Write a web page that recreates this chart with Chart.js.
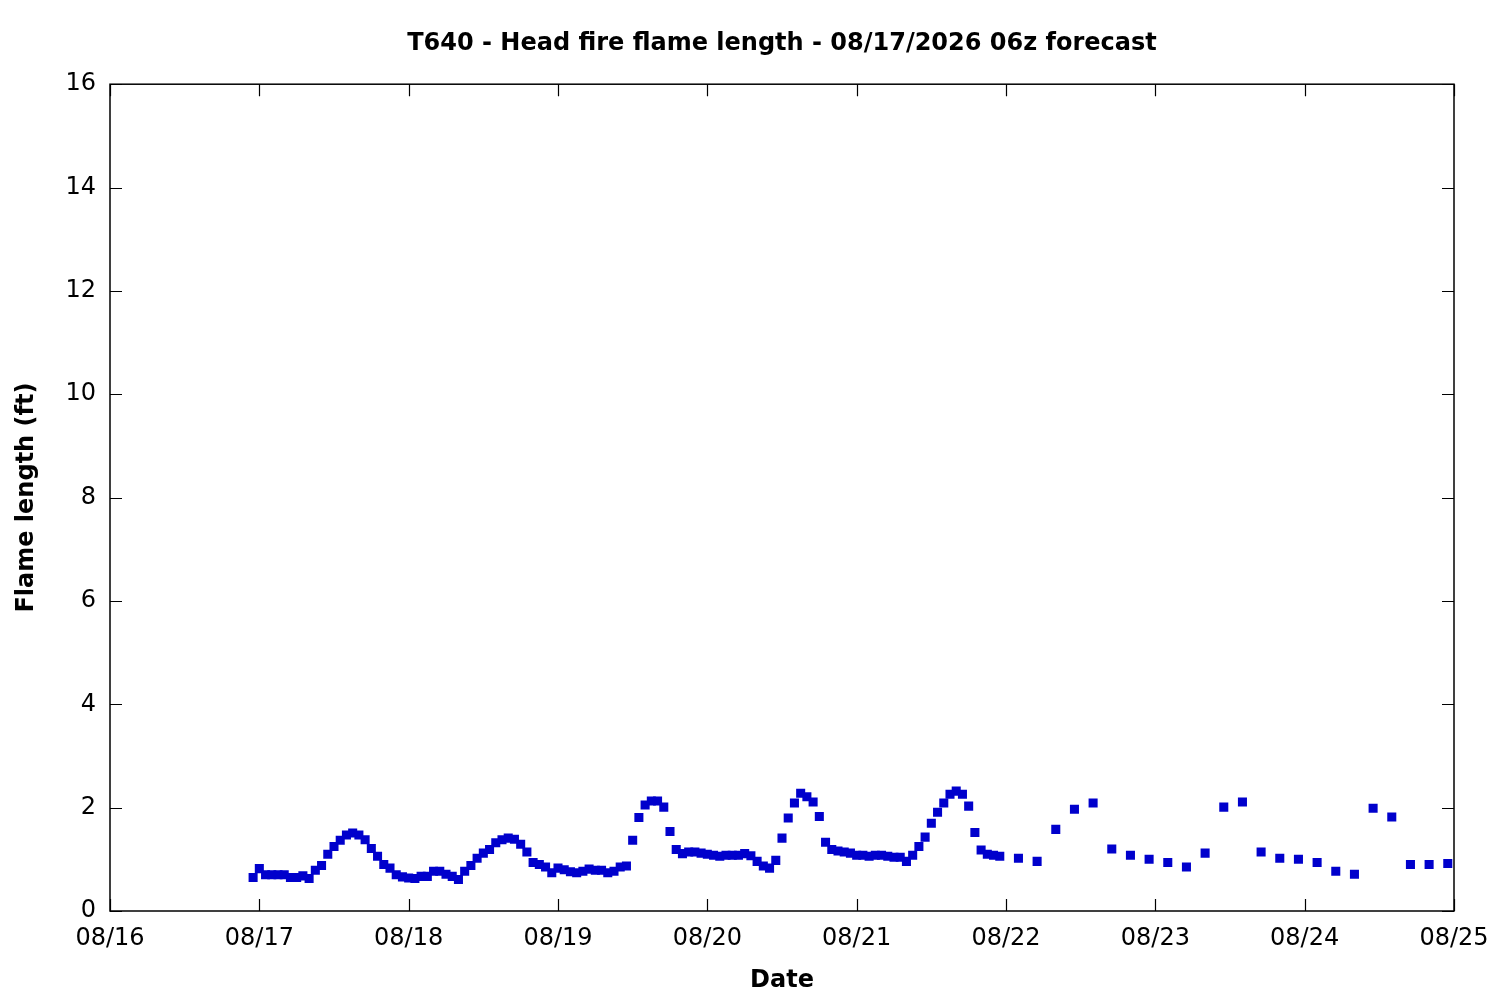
<!DOCTYPE html>
<html>
<head>
<meta charset="utf-8">
<script src="https://cdn.jsdelivr.net/npm/chart.js@4"></script>
<style>
  html, body { margin: 0; padding: 0; background: #fff; }
  canvas { display: block; }
</style>
</head>
<body>
<canvas id="chart" width="1500" height="1000"></canvas>
<script>
// Hourly forecast values (ft), first one at 08/16 23:00
const hourlyStartHour = 23;
const hourlyValues = [
  0.65, 0.82, 0.70, 0.70, 0.70, 0.70, 0.65, 0.65, 0.68, 0.63,
  0.79, 0.88, 1.10, 1.25, 1.37, 1.47, 1.51, 1.47, 1.38, 1.21,
  1.06, 0.90, 0.83, 0.70, 0.66, 0.64, 0.63, 0.67, 0.67, 0.77,
  0.77, 0.71, 0.67, 0.61, 0.77, 0.88, 1.02, 1.12, 1.19, 1.32,
  1.38, 1.41, 1.39, 1.29, 1.14, 0.94, 0.90, 0.85, 0.74, 0.83,
  0.80, 0.76, 0.74, 0.77, 0.81, 0.79, 0.79, 0.74, 0.77, 0.85,
  0.87, 1.37, 1.81, 2.05, 2.13, 2.13, 2.01, 1.54, 1.19, 1.11,
  1.14, 1.14, 1.12, 1.10, 1.08, 1.06, 1.08, 1.08, 1.08, 1.11,
  1.07, 0.96, 0.87, 0.83, 0.98, 1.41, 1.80, 2.09, 2.28, 2.21,
  2.11, 1.83, 1.33, 1.19, 1.16, 1.14, 1.12, 1.08, 1.08, 1.06,
  1.08, 1.08, 1.06, 1.04, 1.04, 0.96, 1.08, 1.25, 1.43, 1.70,
  1.91, 2.09, 2.26, 2.32, 2.26, 2.03, 1.52, 1.18, 1.10, 1.08,
  1.06,
];

// 3-hourly values (ft), first one at 08/22 02:00
const threeHourStartHour = 146;
const threeHourValues = [
  1.02, 0.96, 1.58, 1.97, 2.09, 1.20, 1.08, 1.00, 0.94, 0.85,
  1.12, 2.01, 2.11, 1.14, 1.02, 1.00, 0.94, 0.77, 0.71, 1.99,
  1.82, 0.90, 0.90, 0.92,
];

const dateLabels = ["08/16", "08/17", "08/18", "08/19", "08/20",
                    "08/21", "08/22", "08/23", "08/24", "08/25"];
const yTicks = [0, 2, 4, 6, 8, 10, 12, 14, 16];

const points = [];
hourlyValues.forEach((v, i) => points.push({ x: hourlyStartHour + i, y: v }));
threeHourValues.forEach((v, i) => points.push({ x: threeHourStartHour + i * 3, y: v }));

const FONT = "'DejaVu Sans', sans-serif";

// gnuplot-style frame with inward ticks on all four sides
const framePlugin = {
  id: "frame",
  afterDraw(c) {
    const { ctx, chartArea: a, scales } = c;
    const len = 12;
    ctx.save();
    ctx.strokeStyle = "#000";
    ctx.lineWidth = 1.5;
    ctx.strokeRect(a.left, a.top, a.right - a.left, a.bottom - a.top);
    ctx.beginPath();
    dateLabels.forEach((_, i) => {
      const px = Math.round(scales.x.getPixelForValue(i * 24)) + 0.5;
      ctx.moveTo(px, a.bottom); ctx.lineTo(px, a.bottom - len);
      ctx.moveTo(px, a.top); ctx.lineTo(px, a.top + len);
    });
    yTicks.forEach((t) => {
      const py = Math.round(scales.y.getPixelForValue(t)) + 0.5;
      ctx.moveTo(a.left, py); ctx.lineTo(a.left + len, py);
      ctx.moveTo(a.right, py); ctx.lineTo(a.right - len, py);
    });
    ctx.lineWidth = 1.2;
    ctx.stroke();
    ctx.restore();
  },
};

new Chart(document.getElementById("chart").getContext("2d"), {
  type: "scatter",
  data: {
    datasets: [{
      data: points,
      pointStyle: "rect",
      pointRadius: 6.4,
      pointHoverRadius: 6.4,
      borderWidth: 0,
      backgroundColor: "#0000cc",
      borderColor: "#0000cc",
    }],
  },
  options: {
    responsive: false,
    animation: false,
    devicePixelRatio: 1,
    layout: { padding: { left: 0, right: 46, top: 0, bottom: 0 } },
    plugins: {
      legend: { display: false },
      tooltip: { enabled: false },
      title: {
        display: true,
        fullSize: false,
        text: "T640 - Head fire flame length - 08/17/2026 06z forecast",
        color: "#000",
        font: { family: FONT, size: 24, weight: "bold", lineHeight: 1.2 },
        padding: { top: 29, bottom: 26.4 },
      },
    },
    scales: {
      x: {
        type: "linear",
        min: 0,
        max: 216,
        afterFit: (s) => { s.height = 89; s.paddingLeft = 0; s.paddingRight = 0; },
        afterBuildTicks: (s) => { s.ticks = dateLabels.map((_, i) => ({ value: i * 24 })); },
        grid: { display: false, drawTicks: false },
        border: { display: false },
        ticks: {
          color: "#000",
          font: { family: FONT, size: 24 },
          padding: 13,
          maxRotation: 0,
          autoSkip: false,
          callback: (v) => dateLabels[Math.round(v / 24)],
        },
        title: {
          display: true,
          text: "Date",
          color: "#000",
          font: { family: FONT, size: 24, weight: "bold", lineHeight: 1.2 },
          padding: { top: 0, bottom: 5 },
        },
      },
      y: {
        min: 0,
        max: 16,
        afterFit: (s) => { s.width = 110; s.paddingTop = 0; s.paddingBottom = 0; },
        afterBuildTicks: (s) => { s.ticks = yTicks.map((v) => ({ value: v })); },
        grid: { display: false, drawTicks: false },
        border: { display: false },
        ticks: {
          color: "#000",
          font: { family: FONT, size: 24 },
          padding: 14,
        },
        title: {
          display: true,
          text: "Flame length (ft)",
          color: "#000",
          font: { family: FONT, size: 24, weight: "bold", lineHeight: 1.2 },
          padding: { top: 12.6, bottom: 0 },
        },
      },
    },
  },
  plugins: [framePlugin],
});
</script>
</body>
</html>
